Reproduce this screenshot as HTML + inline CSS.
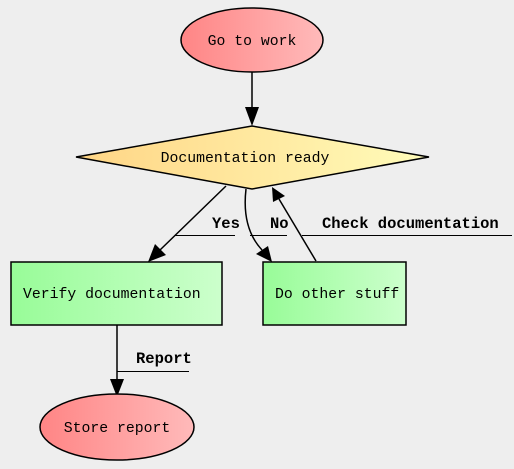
<!DOCTYPE html>
<html><head><style>html,body{margin:0;padding:0;background:#eeeeee}svg{display:block}</style></head><body>
<svg width="514" height="469" xmlns="http://www.w3.org/2000/svg">
<defs>
<linearGradient id="r" x1="0" x2="1"><stop offset="0" stop-color="#ff8585"/><stop offset="1" stop-color="#ffbaba"/></linearGradient>
<linearGradient id="y" x1="0" x2="1"><stop offset="0" stop-color="#ffd585"/><stop offset="1" stop-color="#fffcba"/></linearGradient>
<linearGradient id="g" x1="0" x2="1"><stop offset="0" stop-color="#98fc98"/><stop offset="1" stop-color="#ccffcc"/></linearGradient>
</defs>
<rect width="514" height="469" fill="#eeeeee"/>
<g stroke="#000" stroke-width="1.5" fill="none">
<line x1="252" y1="72" x2="252" y2="108"/>
<line x1="226" y1="186" x2="160" y2="250"/>
<path d="M246,189 C243,215 248,235 262,250"/>
<line x1="316" y1="261" x2="279" y2="199"/>
<line x1="117" y1="325" x2="117" y2="380"/>
</g>
<g stroke="#000" stroke-width="1.3" shape-rendering="crispEdges">
<line x1="175" y1="235.5" x2="235" y2="235.5"/>
<line x1="250" y1="235.5" x2="287" y2="235.5"/>
<line x1="302" y1="235.5" x2="512" y2="235.5"/>
<line x1="117" y1="371.5" x2="189" y2="371.5"/>
</g>
<g fill="#000">
<polygon points="245,107 259,107 252,126"/>
<polygon points="155,244 166,255 148,262"/>
<polygon points="256,254 268,246 272,262"/>
<polygon points="272,187 285,196 273,202"/>
<polygon points="110,379 124,379 117,397"/>
</g>
<g stroke="#000" stroke-width="1.5">
<ellipse cx="252" cy="40" rx="71" ry="32" fill="url(#r)"/>
<polygon points="76,157 252,126 429,157 252,189" fill="url(#y)"/>
<rect x="11" y="262" width="211" height="63" fill="url(#g)"/>
<rect x="263" y="262" width="143" height="63" fill="url(#g)"/>
<ellipse cx="117" cy="427" rx="77" ry="33" fill="url(#r)"/>
</g>
<g font-family="Liberation Mono, monospace" font-size="14.8" fill="#000">
<text x="252" y="45" text-anchor="middle">Go to work</text>
<text x="245" y="162" text-anchor="middle">Documentation ready</text>
<text x="23" y="298">Verify documentation</text>
<text x="275" y="298">Do other stuff</text>
<text x="117" y="432" text-anchor="middle">Store report</text>
<g font-weight="bold" font-size="15.5">
<text x="212" y="228">Yes</text>
<text x="270" y="228">No</text>
<text x="322" y="228">Check documentation</text>
<text x="136" y="363">Report</text>
</g>
</g>
</svg>
</body></html>
